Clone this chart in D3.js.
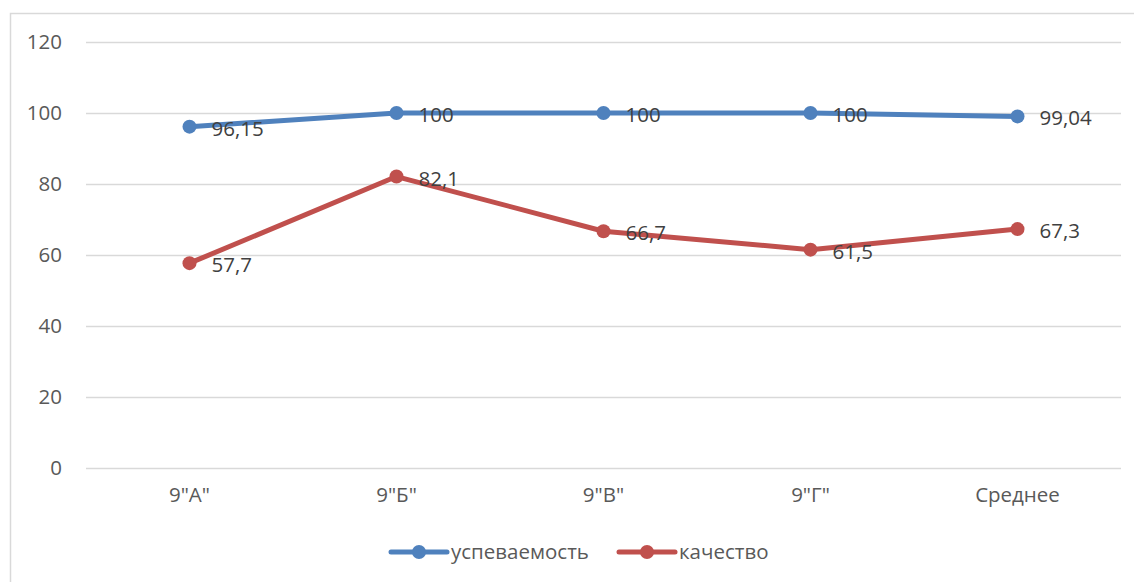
<!DOCTYPE html>
<html lang="ru">
<head>
    <meta charset="UTF-8">
    <title>Успеваемость и качество</title>
    <style>
        body, html {
            margin: 0;
            padding: 0;
            background-color: #ffffff;
        }
        svg text {
            font-family: "Open Sans", "Liberation Sans", sans-serif;
            fill: #595959;
        }
    </style>
</head>
<body>
    <div id="chart"></div>

    <script src="https://d3js.org/d3.v7.min.js"></script>
    <script>
        // Chart data
        const categories = ['9"А"', '9"Б"', '9"В"', '9"Г"', 'Среднее'];
        const uspevaemost = [96.15, 100, 100, 100, 99.04];
        const kachestvo = [57.7, 82.1, 66.7, 61.5, 67.3];
        const yTicks = [0, 20, 40, 60, 80, 100, 120];

        const series = [
            { name: "успеваемость", values: uspevaemost, color: "#4F81BD" },
            { name: "качество", values: kachestvo, color: "#C0504D" }
        ];

        const width = 1134, height = 582;
        const margin = { left: 86, right: 13, top: 42, bottom: 114 };
        const fs = 20.5;

        const svg = d3.select("#chart").append("svg")
            .attr("width", width)
            .attr("height", height);

        // Chart frame
        svg.append("rect")
            .attr("x", 10.5)
            .attr("y", 13.5)
            .attr("width", 1140)
            .attr("height", 600)
            .attr("fill", "none")
            .attr("stroke", "#d9d9d9")
            .attr("stroke-width", 1.5);

        const x = d3.scaleBand()
            .domain(categories)
            .range([margin.left, width - margin.right]);

        const y = d3.scaleLinear()
            .domain([0, 120])
            .range([height - margin.bottom, margin.top]);

        // Gridlines + y labels
        const yAxis = svg.append("g")
            .attr("transform", `translate(${margin.left},0)`)
            .call(d3.axisLeft(y).tickValues(yTicks).tickSize(-(width - margin.right - margin.left)).tickPadding(24));
        yAxis.select(".domain").remove();
        yAxis.selectAll(".tick line").attr("stroke", "#d9d9d9").attr("stroke-width", 1.3);
        yAxis.selectAll(".tick text")
            .style("font-size", fs + "px")
            .attr("fill", null);

        // x labels
        const xAxis = svg.append("g")
            .attr("transform", `translate(0,${y(0)})`)
            .call(d3.axisBottom(x).tickSize(0).tickPadding(19));
        xAxis.select(".domain").remove();
        xAxis.selectAll(".tick text")
            .style("font-size", fs + "px")
            .attr("fill", null);

        const cx = d => x(d) + x.bandwidth() / 2;

        const line = d3.line()
            .x((d, i) => cx(categories[i]))
            .y(d => y(d));

        series.forEach(s => {
            svg.append("path")
                .datum(s.values)
                .attr("d", line)
                .attr("fill", "none")
                .attr("stroke", s.color)
                .attr("stroke-width", 5)
                .attr("stroke-linejoin", "round")
                .attr("stroke-linecap", "round");

            svg.append("g")
                .selectAll("circle")
                .data(s.values)
                .join("circle")
                .attr("cx", (d, i) => cx(categories[i]))
                .attr("cy", d => y(d))
                .attr("r", 7)
                .attr("fill", s.color);
        });

        // Data labels
        series.forEach(s => {
            svg.append("g")
                .selectAll("text")
                .data(s.values)
                .join("text")
                .attr("x", (d, i) => cx(categories[i]) + 22)
                .attr("y", d => y(d) + 9)
                .style("font-size", fs + "px")
                .style("fill", "#404040")
                .text(d => String(d).replace(".", ","));
        });

        // Legend
        const legendItems = [
            { s: series[0], x: 391 },
            { s: series[1], x: 619 }
        ];
        const ly = 552;
        legendItems.forEach(item => {
            const g = svg.append("g").attr("transform", `translate(${item.x},${ly})`);
            g.append("line")
                .attr("x1", 0).attr("x2", 56)
                .attr("y1", 0).attr("y2", 0)
                .attr("stroke", item.s.color)
                .attr("stroke-width", 5)
                .attr("stroke-linecap", "round");
            g.append("circle")
                .attr("cx", 28).attr("cy", 0).attr("r", 7)
                .attr("fill", item.s.color);
            g.append("text")
                .attr("x", 60).attr("y", 7)
                .style("font-size", fs + "px")
                .text(item.s.name);
        });
    </script>
</body>
</html>
